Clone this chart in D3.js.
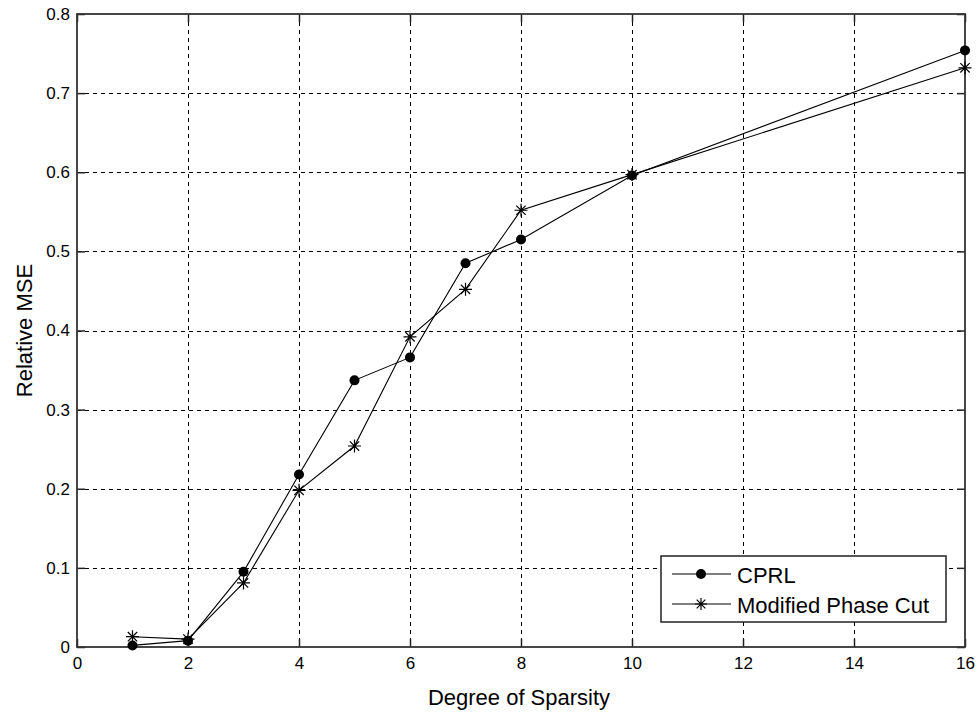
<!DOCTYPE html>
<html>
<head>
<meta charset="utf-8">
<script src="https://cdn.jsdelivr.net/npm/d3@7"></script>
<style>
  html, body { margin: 0; padding: 0; background: #fff; }
  svg { display: block; }
  text { font-family: "Liberation Sans", Arial, sans-serif; fill: #000; }
</style>
</head>
<body>
<svg id="chart" width="977" height="715"></svg>
<script>
const xValues = [1, 2, 3, 4, 5, 6, 7, 8, 10, 16];
const cprlValues = [0.002, 0.008, 0.095, 0.218, 0.337, 0.366, 0.485, 0.515, 0.596, 0.754];
const mpcValues = [0.013, 0.010, 0.081, 0.198, 0.254, 0.392, 0.452, 0.552, 0.597, 0.732];
const xTicks = [0, 2, 4, 6, 8, 10, 12, 14, 16];
const yTicks = [0, 0.1, 0.2, 0.3, 0.4, 0.5, 0.6, 0.7, 0.8];
const seriesNames = ["CPRL", "Modified Phase Cut"];
const xLabel = "Degree of Sparsity";
const yLabel = "Relative MSE";

const svg = d3.select("#chart");
const L = 77, R = 965, T = 14, B = 647;
const x = d3.scaleLinear().domain([0, 16]).range([L, R]);
const y = d3.scaleLinear().domain([0, 0.8]).range([B, T]);

// grid
const grid = svg.append("g");
xTicks.slice(1, -1).forEach(t => {
  const px = Math.round(x(t)) + 0.5;
  grid.append("line").attr("x1", px).attr("x2", px).attr("y1", T).attr("y2", B)
    .attr("stroke", "#000").attr("stroke-width", 1).attr("stroke-dasharray", "4,4");
});
yTicks.slice(1, -1).forEach(t => {
  const py = Math.round(y(t)) + 0.5;
  grid.append("line").attr("x1", L).attr("x2", R).attr("y1", py).attr("y2", py)
    .attr("stroke", "#000").attr("stroke-width", 1).attr("stroke-dasharray", "4,4");
});

// axes
const fmtY = d => d === 0 ? "0" : d3.format(".1f")(d);
const xAxis = d3.axisBottom(x).tickValues(xTicks).tickSize(-8).tickPadding(10).tickFormat(d3.format("d"));
const xAxisTop = d3.axisTop(x).tickValues(xTicks).tickSize(-8).tickFormat("");
const yAxis = d3.axisLeft(y).tickValues(yTicks).tickSize(-8).tickPadding(7).tickFormat(fmtY);
const yAxisRight = d3.axisRight(y).tickValues(yTicks).tickSize(-8).tickFormat("");

function style(g) {
  g.selectAll("path").remove();
  g.selectAll("line").attr("stroke", "#222").attr("stroke-width", 1.5);
  g.selectAll("text").style("font-size", "17px").attr("fill", "#111");
}
svg.append("g").attr("transform", `translate(0,${B})`).call(xAxis).call(style);
svg.append("g").attr("transform", `translate(0,${T})`).call(xAxisTop).call(style);
svg.append("g").attr("transform", `translate(${L},0)`).call(yAxis).call(style);
svg.append("g").attr("transform", `translate(${R},0)`).call(yAxisRight).call(style);

svg.append("rect").attr("x", L).attr("y", T).attr("width", R - L).attr("height", B - T)
  .attr("fill", "none").attr("stroke", "#333").attr("stroke-width", 1.8);

// lines
const line = d3.line().x((d, i) => x(xValues[i])).y(d => y(d));
svg.append("path").datum(cprlValues).attr("d", line).attr("fill", "none").attr("stroke", "#000").attr("stroke-width", 1.1);
svg.append("path").datum(mpcValues).attr("d", line).attr("fill", "none").attr("stroke", "#000").attr("stroke-width", 1.1);

function star(g, cx, cy, s) {
  const d = s * 0.72;
  g.append("path").attr("d",
    `M${cx - s},${cy}L${cx + s},${cy}M${cx},${cy - s}L${cx},${cy + s}` +
    `M${cx - d},${cy - d}L${cx + d},${cy + d}M${cx - d},${cy + d}L${cx + d},${cy - d}`)
    .attr("stroke", "#000").attr("stroke-width", 1.2).attr("fill", "none");
}

const mk = svg.append("g");
cprlValues.forEach((v, i) => {
  mk.append("circle").attr("cx", x(xValues[i])).attr("cy", y(v)).attr("r", 5).attr("fill", "#000");
});
mpcValues.forEach((v, i) => star(mk, x(xValues[i]), y(v), 6.5));

// axis labels
svg.append("text").attr("x", 519).attr("y", 705).attr("text-anchor", "middle")
  .style("font-size", "22px").attr("fill", "#111").text(xLabel);
svg.append("text").attr("transform", `translate(32,${(T + B) / 2}) rotate(-90)`).attr("text-anchor", "middle")
  .style("font-size", "22px").attr("fill", "#111").text(yLabel);

// legend
const lg = svg.append("g");
lg.append("rect").attr("x", 661).attr("y", 556).attr("width", 285).attr("height", 66)
  .attr("fill", "#fff").attr("stroke", "#222").attr("stroke-width", 1.5);
const rows = [574, 604];
rows.forEach((ry, i) => {
  lg.append("line").attr("x1", 672).attr("x2", 731).attr("y1", ry).attr("y2", ry)
    .attr("stroke", "#000").attr("stroke-width", 1.2);
  if (i === 0) lg.append("circle").attr("cx", 701).attr("cy", ry).attr("r", 5).attr("fill", "#000");
  else star(lg, 701, ry, 6);
  lg.append("text").attr("x", 737).attr("y", ry + 8.5).style("font-size", "22px").attr("fill", "#111").text(seriesNames[i]);
});
</script>
</body>
</html>
